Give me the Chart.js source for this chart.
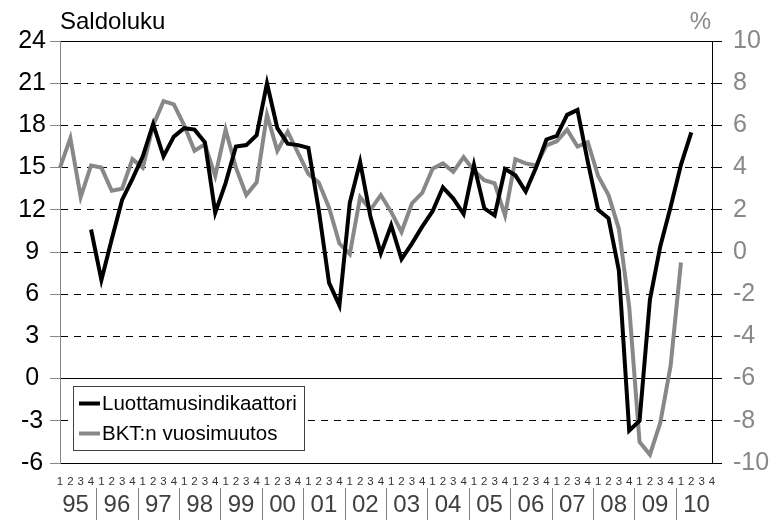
<!DOCTYPE html>
<html>
<head>
<meta charset="utf-8">
<script src="https://cdn.jsdelivr.net/npm/chart.js@4/dist/chart.umd.min.js"></script>
<style>
  html, body { margin: 0; padding: 0; background: #fff; }
  #wrap { width: 771px; height: 520px; }
</style>
</head>
<body>
<div id="wrap"><canvas id="chart" width="771" height="520"></canvas></div>
<script>
const years = ['95', '96', '97', '98', '99', '00', '01', '02', '03', '04', '05', '06', '07', '08', '09', '10'];
const quarters = ['1', '2', '3', '4'];

// Luottamusindikaattori (saldoluku, vasen asteikko), 1995Q1 -> 2010Q4
const confidence = [
    null, null, null, 10.6, 7.0, 9.9, 12.7, 14.2,
    15.8, 18.1, 15.8, 17.2, 17.8, 17.7, 16.8, 11.8,
    13.9, 16.5, 16.6, 17.3, 21.0, 17.8, 16.7, 16.6,
    16.4, 12.0, 6.8, 5.2, 12.5, 15.4, 11.5, 8.9,
    10.9, 8.5, 9.6, 10.8, 11.9, 13.6, 12.8, 11.7,
    15.2, 12.1, 11.6, 14.9, 14.45, 13.3, 15.0, 17.0,
    17.25, 18.75, 19.1, 15.4, 12.0, 11.4, 7.7, -3.7,
    -3.0, 5.6, 9.4, 12.2, 15.2, 17.5, null, null
];

// BKT:n vuosimuutos (%, oikea asteikko)
const gdpChange = [
    4.0, 5.4, 2.6, 4.1, 4.0, 2.9, 3.0, 4.4,
    4.0, 6.0, 7.15, 7.0, 6.0, 4.8, 5.1, 3.6,
    5.8, 4.0, 2.7, 3.3, 6.5, 4.8, 5.7, 4.7,
    3.7, 3.3, 2.1, 0.4, -0.1, 2.6, 2.0, 2.7,
    1.9, 0.95, 2.3, 2.8, 3.95, 4.2, 3.8, 4.5,
    3.85, 3.4, 3.25, 1.74, 4.4, 4.2, 4.1, 5.05,
    5.25, 5.8, 5.0, 5.2, 3.6, 2.7, 1.1, -2.6,
    -9.0, -9.6, -8.1, -5.4, -0.5, null, null, null
];

const leftTicks = [-6, -3, 0, 3, 6, 9, 12, 15, 18, 21, 24];
const rightTicks = [-10, -8, -6, -4, -2, 0, 2, 4, 6, 8, 10];

const labels = [];
years.forEach(() => quarters.forEach(q => labels.push(q)));

const FONT = "'Liberation Sans', Arial, sans-serif";

const decorPlugin = {
    id: 'decor',
    afterDraw(chart) {
        const ctx = chart.ctx;
        const x = chart.scales.x;
        const area = chart.chartArea;
        ctx.save();

        // year labels + separators
        ctx.font = `24px ${FONT}`;
        ctx.fillStyle = '#404040';
        ctx.textAlign = 'center';
        ctx.textBaseline = 'middle';
        years.forEach((y, k) => {
            const cx = x.getPixelForValue(k * 4 + 1.5);
            ctx.fillText(y, cx, 505);
            if (k < years.length - 1) {
                const sx = Math.round(x.getPixelForValue(k * 4 + 3.5)) + 0.5;
                ctx.strokeStyle = '#808080';
                ctx.lineWidth = 1;
                ctx.beginPath();
                ctx.moveTo(sx, 488);
                ctx.lineTo(sx, 520);
                ctx.stroke();
            }
        });

        // axis titles
        ctx.font = `24px ${FONT}`;
        ctx.textBaseline = 'alphabetic';
        ctx.textAlign = 'left';
        ctx.fillStyle = '#000';
        ctx.fillText('Saldoluku', area.left, 29);
        ctx.fillStyle = '#888';
        ctx.textAlign = 'right';
        ctx.fillText('%', area.right - 1, 29);

        // legend box
        const bx = 73.5, by = 386.5, bw = 231, bh = 64;
        ctx.fillStyle = '#fff';
        ctx.fillRect(bx, by, bw, bh);
        ctx.strokeStyle = '#404040';
        ctx.lineWidth = 1;
        ctx.strokeRect(bx, by, bw, bh);
        ctx.font = `20.5px ${FONT}`;
        ctx.textAlign = 'left';
        ctx.textBaseline = 'middle';
        chart.data.datasets.forEach((ds, i) => {
            const ly = 403.5 + i * 30;
            ctx.strokeStyle = ds.borderColor;
            ctx.lineWidth = 4;
            ctx.beginPath();
            ctx.moveTo(79, ly);
            ctx.lineTo(100, ly);
            ctx.stroke();
            ctx.fillStyle = '#000';
            ctx.fillText(ds.label, 102, ly + 1);
        });
        ctx.restore();
    }
};

new Chart(document.getElementById('chart'), {
    type: 'line',
    data: {
        labels: labels,
        datasets: [{
            label: 'Luottamusindikaattori',
            data: confidence,
            yAxisID: 'y',
            borderColor: '#000000',
            borderWidth: 4,
            pointRadius: 0,
            tension: 0,
            spanGaps: false
        }, {
            label: 'BKT:n vuosimuutos',
            data: gdpChange,
            yAxisID: 'y2',
            borderColor: '#888888',
            borderWidth: 4,
            pointRadius: 0,
            tension: 0,
            spanGaps: false
        }]
    },
    options: {
        responsive: false,
        animation: false,
        layout: { padding: { top: 41, left: 0, right: 0, bottom: 0 } },
        plugins: { legend: { display: false }, tooltip: { enabled: false } },
        scales: {
            x: {
                type: 'category',
                offset: false,
                grid: { display: false, drawTicks: false },
                border: { display: false },
                ticks: {
                    autoSkip: false,
                    maxRotation: 0,
                    padding: 12,
                    color: '#333',
                    font: { family: FONT, size: 11.5 }
                },
                afterFit: s => { s.height = 57; }
            },
            y: {
                position: 'left',
                min: -6,
                max: 24,
                afterBuildTicks: s => { s.ticks = leftTicks.map(v => ({ value: v })); },
                grid: {
                    color: '#000',
                    lineWidth: 1,
                    tickLength: 10,
                    tickColor: '#888',
                    tickBorderDash: []
                },
                border: { display: true, color: '#888', width: 1, dash: [7, 6] },
                ticks: {
                    padding: 4,
                    crossAlign: 'center',
                    color: '#000',
                    font: { family: FONT, size: 25 }
                },
                afterFit: s => { s.width = 60; }
            },
            y2: {
                position: 'right',
                min: -10,
                max: 10,
                afterBuildTicks: s => { s.ticks = rightTicks.map(v => ({ value: v })); },
                grid: {
                    color: c => ([10, -6, -10].includes(c.tick && c.tick.value) ? '#000' : 'rgba(0,0,0,0)'),
                    lineWidth: 1,
                    tickLength: 10,
                    tickColor: '#000'
                },
                border: { display: true, color: '#000', width: 1 },
                ticks: {
                    padding: 11,
                    color: '#888',
                    font: { family: FONT, size: 25 }
                },
                afterFit: s => { s.width = 59; }
            }
        }
    },
    plugins: [decorPlugin]
});
</script>
</body>
</html>
